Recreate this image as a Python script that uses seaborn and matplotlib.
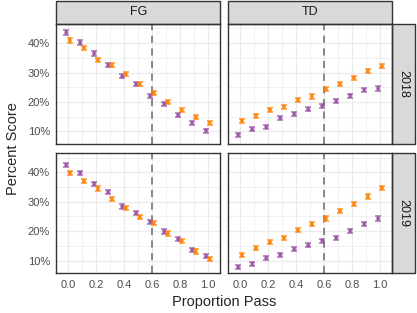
import numpy as np
import pandas as pd
import matplotlib
matplotlib.use("Agg")
import matplotlib.pyplot as plt
from matplotlib.patches import Rectangle
from matplotlib.ticker import FuncFormatter, MultipleLocator
import seaborn as sns

# --- data ---
prop_pass = [0.0, 0.1, 0.2, 0.3, 0.4, 0.5, 0.6, 0.7, 0.8, 0.9, 1.0]
stats = ["FG", "TD"]
years = ["2018", "2019"]
groups = ["A", "B"]  # purple, orange

fg_2018_a = [43.6, 40.2, 36.5, 32.5, 28.7, 26.0, 22.1, 19.4, 15.5, 12.9, 10.3]
fg_2018_b = [40.9, 38.4, 34.3, 32.5, 29.4, 26.0, 23.0, 20.0, 17.2, 14.9, 12.9]
td_2018_a = [8.9, 10.8, 11.6, 14.6, 15.9, 17.5, 18.7, 20.4, 22.2, 24.1, 24.6]
td_2018_b = [13.7, 15.4, 17.4, 18.4, 20.7, 21.9, 24.3, 26.1, 28.2, 30.6, 32.1]
fg_2019_a = [42.5, 39.8, 36.1, 33.3, 28.4, 26.2, 23.1, 19.9, 17.3, 13.7, 11.5]
fg_2019_b = [39.8, 37.0, 34.5, 30.9, 27.9, 24.8, 22.7, 19.2, 16.7, 13.1, 10.5]
td_2019_a = [7.8, 8.9, 10.9, 12.0, 13.9, 15.2, 16.8, 17.8, 20.2, 22.5, 24.3]
td_2019_b = [11.9, 14.2, 16.2, 17.8, 20.3, 22.4, 24.3, 26.8, 29.2, 31.8, 34.7]

# half-width of the error bars, percentage points
err_half = 0.7
cutoff = 0.6

series = {
    ("FG", "2018", "A"): fg_2018_a, ("FG", "2018", "B"): fg_2018_b,
    ("TD", "2018", "A"): td_2018_a, ("TD", "2018", "B"): td_2018_b,
    ("FG", "2019", "A"): fg_2019_a, ("FG", "2019", "B"): fg_2019_b,
    ("TD", "2019", "A"): td_2019_a, ("TD", "2019", "B"): td_2019_b,
}

rows = []
for (stat, year, grp), vals in series.items():
    for p, v in zip(prop_pass, vals):
        rows.append({"stat": stat, "year": year, "group": grp, "prop": p, "score": v})
df = pd.DataFrame(rows)

dodge = {"A": -0.0125, "B": 0.0125}
df["x"] = df["prop"] + df["group"].map(dodge)

palette = {"A": "#984ea3", "B": "#ff7f00"}

sns.set_style("white")
plt.rcParams["font.family"] = ["Liberation Sans", "DejaVu Sans"]


def draw(data, **kw):
    ax = plt.gca()
    ax.axvline(cutoff, color="#7f7f7f", ls=(0, (4, 3)), lw=1.3, zorder=1)
    for grp in groups:
        d = data[data["group"] == grp]
        ax.errorbar(d["x"], d["score"], yerr=err_half, fmt="none",
                    ecolor=palette[grp], alpha=0.75, capsize=2.2,
                    elinewidth=1.6, capthick=1.2, zorder=2)
    sns.scatterplot(data=data, x="x", y="score", hue="group", palette=palette,
                    s=9, alpha=0.75, edgecolor="none", legend=False, ax=ax, zorder=3)


g = sns.FacetGrid(df, row="year", col="stat", row_order=years, col_order=stats,
                  sharex=True, sharey=True, despine=False, height=1.5, aspect=1.3)
g.map_dataframe(draw)
g.set_titles("")
g.set_axis_labels("", "")

fig = g.figure
fig.set_size_inches(4.17, 3.13)
fig.set_dpi(100)
fig.subplots_adjust(left=0.135, right=0.9408, top=0.9233, bottom=0.1268,
                    wspace=0.05, hspace=0.075)

for i, year in enumerate(years):
    for j, stat in enumerate(stats):
        ax = g.axes[i, j]
        ax.set_xlim(-0.084, 1.088)
        ax.set_ylim(5.7, 46.5)
        ax.xaxis.set_major_locator(MultipleLocator(0.2))
        ax.xaxis.set_minor_locator(MultipleLocator(0.1))
        ax.yaxis.set_major_locator(MultipleLocator(10))
        ax.yaxis.set_minor_locator(MultipleLocator(5))
        ax.yaxis.set_major_formatter(FuncFormatter(lambda v, _: f"{v:.0f}%"))
        ax.xaxis.set_major_formatter(FuncFormatter(lambda v, _: f"{v:.1f}"))
        ax.grid(which="major", color="#ebebeb", lw=0.9)
        ax.grid(which="minor", color="#ebebeb", lw=0.5)
        ax.set_axisbelow(True)
        for sp in ax.spines.values():
            sp.set_color("#333333")
            sp.set_linewidth(1.0)
        ax.tick_params(which="major", length=3, width=0.8, color="#333333",
                       labelsize=8, labelcolor="#4d4d4d", pad=1.5)
        ax.tick_params(which="minor", length=0)
        ax.set_xlabel("")
        ax.set_ylabel("")
        if i == 0:
            ax.add_patch(Rectangle((0, 1), 1, 23 / 120, transform=ax.transAxes,
                                   facecolor="#d9d9d9", edgecolor="#333333", lw=1.0,
                                   clip_on=False))
            ax.text(0.5, 1 + 11.5 / 120, stat, transform=ax.transAxes,
                    ha="center", va="center", fontsize=9, color="#1a1a1a")
        if j == len(stats) - 1:
            ax.add_patch(Rectangle((1, 0), 23 / 164, 1, transform=ax.transAxes,
                                   facecolor="#d9d9d9", edgecolor="#333333", lw=1.0,
                                   clip_on=False))
            ax.text(1 + 11.5 / 164, 0.5, year, transform=ax.transAxes, rotation=-90,
                    ha="center", va="center", fontsize=9, color="#1a1a1a")

fig.text(0.538, 0.034, "Proportion Pass", ha="center", va="center", fontsize=10.5)
fig.text(0.032, 0.525, "Percent Score", ha="center", va="center", rotation=90,
         fontsize=10.5)

fig.savefig("out.png", dpi=100)
